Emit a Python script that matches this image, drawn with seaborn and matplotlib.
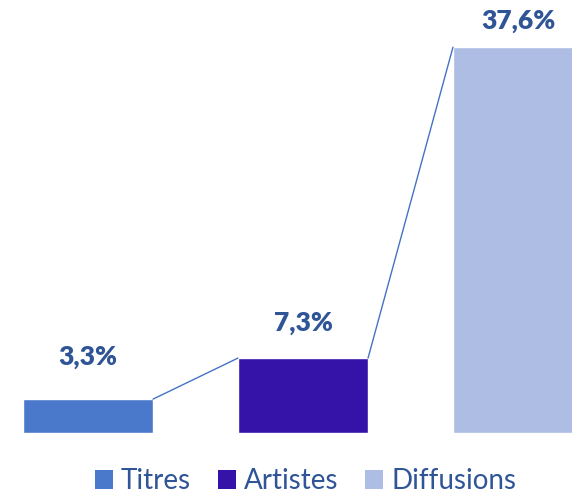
import matplotlib
matplotlib.use("Agg")
import matplotlib.pyplot as plt
import seaborn as sns
from matplotlib.patches import Patch

# Data
categories = ["Titres", "Artistes", "Diffusions"]
values = [3.3, 7.3, 37.6]
labels = ["3,3%", "7,3%", "37,6%"]

colors = ["#4A78CB", "#3513A8", "#AEBDE4"]
text_color = "#2F5597"
label_offsets = [30, 25, 19]  # points above bar top

sns.set_style("white")
plt.rcParams["font.family"] = ["Lato", "DejaVu Sans"]

fig = plt.figure(figsize=(5.72, 4.95), dpi=100)
ax = fig.add_axes([0, 62 / 495, 1, 433 / 495])

sns.barplot(x=categories, y=values, hue=categories, palette=colors,
            width=0.605, legend=False, ax=ax, saturation=1)

ax.set_xlim(-0.409, 2.251)
ax.set_ylim(0, 42.2)
sns.despine(ax=ax, left=True, bottom=True)
ax.set_xticks([])
ax.set_yticks([])
ax.set_xlabel("")
ax.set_ylabel("")

bars = ax.patches[:len(values)]

# connector lines between bar tops
for b1, b2 in zip(bars[:-1], bars[1:]):
    ax.plot([b1.get_x() + b1.get_width(), b2.get_x()],
            [b1.get_height(), b2.get_height()],
            color="#4472C4", lw=1, zorder=3)

for b, lab, off in zip(bars, labels, label_offsets):
    ax.annotate(lab, (b.get_x() + b.get_width() / 2, b.get_height()),
                xytext=(0, off), textcoords="offset points",
                ha="center", va="center", fontsize=19, fontweight="heavy",
                color=text_color)

handles = [Patch(facecolor=c, edgecolor="none") for c in colors]
leg = fig.legend(handles, categories, loc="center", bbox_to_anchor=(0.534, 0.028),
                 ncol=3, frameon=False, fontsize=20, handlelength=0.65,
                 handleheight=0.65, handletextpad=0.3, columnspacing=0.95)
for t in leg.get_texts():
    t.set_color(text_color)

fig.savefig("out.png", dpi=100)
